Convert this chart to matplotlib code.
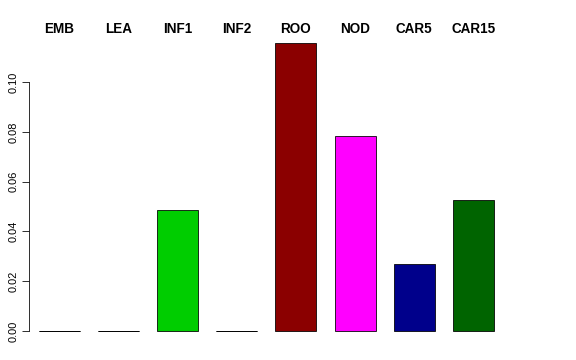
import matplotlib
matplotlib.use("Agg")
import matplotlib.pyplot as plt

# data
tissues = ["EMB", "LEA", "INF1", "INF2", "ROO", "NOD", "CAR5", "CAR15"]
values = [0.0, 0.0, 0.0486, 0.0, 0.1157, 0.0783, 0.0269, 0.0526]
colors = ["#BEBEBE", "#BEBEBE", "#00CD00", "#BEBEBE", "#8B0000", "#FF00FF", "#00008B", "#006400"]
yticks = [0.00, 0.02, 0.04, 0.06, 0.08, 0.10]

plt.rcParams["font.family"] = ["Liberation Sans", "DejaVu Sans"]

fig = plt.figure(figsize=(8, 5), dpi=72)
# axes box in pixels: x 29..560, y 43..331 (from top)
W, H = 576, 360
left, right, top, bottom = 29, 560, 43, 331
ax = fig.add_axes([left / W, 1 - bottom / H, (right - left) / W, (bottom - top) / H])

pos = list(range(len(tissues)))
bw = 0.693
bars = ax.bar(pos, values, width=bw, color=colors, edgecolor="black", linewidth=0.8)
for b in bars:
    b.set_clip_on(False)
# zero-height bars still show as a flat outline in R
for x, v in zip(pos, values):
    if v == 0:
        ax.hlines(0, x - bw / 2, x + bw / 2, color="black", linewidth=0.9, clip_on=False)

ax.set_xlim(-0.507, 8.46)
ax.set_ylim(0, max(values))

for x, name in zip(pos, tissues):
    ax.text(x, 1 + 14 / (bottom - top), name, transform=ax.get_xaxis_transform(),
            ha="center", va="center", fontsize=13.5, fontweight="bold")

ax.set_yticks(yticks)
ax.set_yticklabels(["%.2f" % t for t in yticks], rotation=90, va="center", fontsize=11)
ax.tick_params(axis="y", length=7, width=0.8, pad=3)
ax.set_xticks([])
for s in ["top", "right", "bottom"]:
    ax.spines[s].set_visible(False)
ax.spines["left"].set_bounds(0, 0.10)
ax.spines["left"].set_linewidth(0.8)

fig.savefig("out.png", dpi=72)
